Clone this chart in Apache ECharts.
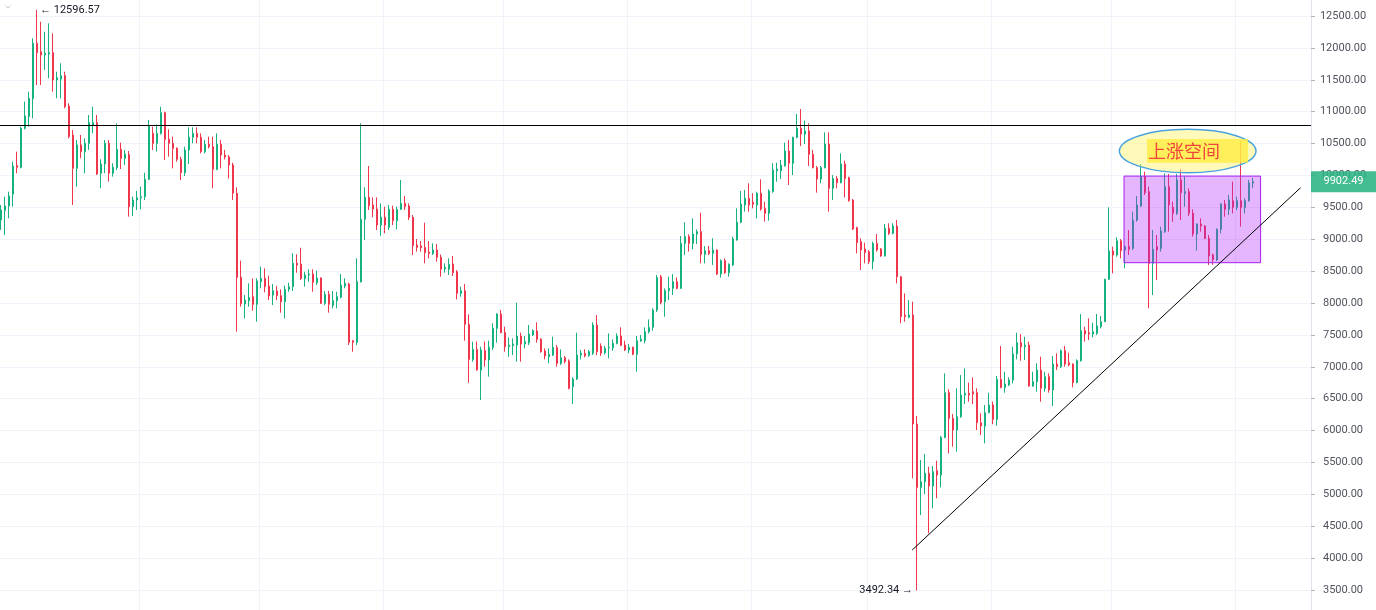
<!DOCTYPE html>
<html>
<head>
<meta charset="utf-8">
<script src="https://cdn.jsdelivr.net/npm/echarts/dist/echarts.min.js"></script>
<style>
html,body{margin:0;padding:0;background:#ffffff;}
#chart{width:1376px;height:610px;}
</style>
</head>
<body>
<div id="chart"></div>
<script>
// ---------------- DATA (daily candles) ----------------
const START_DATE = [2019, 6, 28];          // first candle: 2019-07-28
const EXTRA_SLOTS = 14;                    // empty days to the right of the last candle

const OPEN = [
9302,9449,9522,9705,10154,10128,10739,10922,11204,12072,
11941,11889,11904,11925,11497,11512,11565,11089,10635,10112,
10478,10373,10504,10791,10828,10034,10180,10504,10034,10122,
10409,10268,10330,9510,9615,9650,9667,9939,10660,10503,
10660,10984,10566,10503,10425,10252,10043,10399,10597,10660,
10597,10373,10488,10451,10096,10488,10320,10290,10164,9720,
8402,7984,8036,8099,7979,8334,8387,8266,8125,8188,
8115,8020,8214,8256,8622,8611,8386,8439,8454,8318,
8392,7995,8135,7963,8036,8089,8266,8298,7409,7383,
8334,9312,9657,9536,9474,9223,9343,9186,9468,9291,
9468,9562,9521,9343,8909,8893,8872,8799,8778,8831,
8716,8533,8528,8611,8491,8151,8193,7665,7116,7273,
6949,7252,7106,7305,7603,7827,7540,7315,7331,7341,
7482,7357,7378,7498,7561,7435,7247,7158,7184,7299,
7054,7142,7090,6688,6808,7184,7211,7174,7211,7655,
7325,7221,7299,7299,7367,7482,7341,7263,7305,7195,
7404,7409,7550,7618,7890,8413,8021,8193,8230,8334,
8230,8935,9040,8935,9082,9118,8763,8820,8778,8831,
8454,8664,8475,8596,8988,9265,9536,9641,9578,9536,
9719,9484,9406,9746,10075,10075,10153,10383,10190,10597,
10739,10650,10697,10331,10122,9944,10122,10493,9798,9954,
9887,10180,9965,9614,9181,8961,8846,8805,8648,8935,
8846,8737,9171,9092,9207,8413,7812,7775,7812,6102,
5109,5198,5329,5130,5371,5303,5893,6594,6191,6008,
6217,6557,6583,6609,6594,6123,6071,6280,6400,6176,
6803,6677,6714,6792,7200,7378,7315,7341,6698,6766,
6949,6662,6845,6636,7043,7001,7252,7064,7043,6751,
7096,7566,7535,7514,7524,7629,7707,8371,8815,8752,
8977,8831,8883,8857,9301,9520,9981,9745,8622,8883,
8857,9118,9824,9500,9406,9929,9719,9745,9406,9082,
9238,9207,9014,8752,8674,9155,9552,9469,9604,9500,
9604,9500,9604,9880
];
const CLOSE = [
9459,9522,9678,10149,10128,10739,10933,11209,12072,11925,
11889,11915,11925,11497,11533,11565,11079,10609,10112,10478,
10373,10504,10828,10828,10023,10180,10504,10034,10128,10409,
10268,10336,9510,9615,9651,9667,9939,10775,10503,10660,
10984,10566,10503,10425,10252,10043,10399,10597,10660,10597,
10373,10488,10451,10096,10488,10320,10290,10164,9720,8402,
7990,8047,8088,7979,8345,8387,8256,8110,8193,8115,
8020,8214,8256,8622,8596,8386,8439,8454,8324,8392,
7995,8135,7979,8036,8099,8282,8308,7383,7383,8334,
9312,9657,9526,9474,9223,9343,9223,9468,9291,9468,
9562,9510,9343,8899,8872,8867,8789,8778,8831,8716,
8528,8559,8606,8476,8151,8193,7665,7116,7273,6949,
7263,7106,7305,7603,7827,7535,7315,7341,7357,7482,
7357,7393,7514,7566,7430,7237,7169,7195,7305,7054,
7142,7080,6662,6808,7184,7211,7174,7237,7655,7237,
7211,7289,7305,7367,7482,7336,7263,7305,7195,7409,
7430,7550,7618,7890,8400,8005,8193,8230,8334,8230,
8935,9040,8935,9082,9118,8763,8820,8778,8831,8454,
8664,8475,8606,9003,9265,9552,9641,9536,9547,9719,
9474,9406,9756,10085,10101,10164,10383,10190,10597,10739,
10650,10697,10331,10122,9944,10122,10493,9798,9954,9887,
10180,9954,9604,9160,8946,8831,8789,8648,8935,8831,
8737,9171,9092,9207,8413,7786,7786,7812,6102,5109,
5198,5329,5130,5355,5303,5893,6594,6191,6008,6217,
6557,6583,6557,6573,6123,6071,6280,6400,6176,6803,
6677,6730,6792,7200,7378,7315,7341,6698,6766,6949,
6662,6845,6636,7043,7001,7252,7043,7028,6751,7096,
7566,7514,7514,7550,7639,7707,8371,8815,8752,8977,
8820,8883,8841,9301,9536,9981,9730,8622,8841,8831,
9129,9824,9536,9406,9929,9730,9745,9406,9082,9238,
9207,9014,8737,8684,9155,9552,9469,9615,9500,9604,
9500,9604,9880,9902.49
];
const LOW = [
9146,9067,9328,9511,10034,10112,10720,10765,10896,11418,
11418,11654,11523,11314,11209,11209,11053,10582,9537,9825,
10269,10034,10400,10661,10008,9799,10034,9903,9982,10085,
10101,10164,9354,9364,9458,9468,9615,9929,10399,10373,
10640,10242,10294,10111,10216,9928,9991,10179,10503,10503,
10346,10346,10425,9798,10080,10111,10250,9955,9615,7550,
7942,7759,7942,7880,7707,8230,8167,8047,7968,8047,
7848,7759,8177,8188,8475,8360,8256,8334,8177,8282,
7984,7968,7848,7916,7916,8073,8230,7341,7236,7341,
8320,8988,9458,9343,9144,9050,9092,9144,9223,9155,
9458,9458,9301,8752,8805,8805,8622,8700,8752,8648,
8412,8476,8439,8423,8057,8099,7409,6750,7080,6939,
6479,7001,6845,7263,7378,7525,7237,7158,7185,7080,
7080,7289,7341,7482,7378,7221,7116,7054,7169,7001,
7028,7054,6646,6416,6792,7116,7148,7158,7184,7184,
7169,7195,7132,7252,7352,7325,7247,7211,7180,6923,
7393,7367,7524,7566,7860,7980,7785,8047,8125,8214,
8220,8752,8805,8841,8925,8622,8622,8752,8596,8439,
8397,8455,8412,8580,8977,9250,9432,9432,9484,9327,
9447,9275,9291,9730,9902,9944,10138,9850,10007,10582,
10461,10493,10148,10111,9730,9876,10111,9432,9615,9798,
9876,9656,9589,9144,8778,8517,8622,8611,8528,8805,
8726,8730,9066,9076,8308,7681,7707,7759,5250,3492.34,
4675,5005,4388,4780,4937,5109,5880,5642,5747,5668,
6200,6416,6452,6416,6008,5930,5799,6270,6100,6076,
6662,6594,6700,6740,7116,7096,7106,6688,6688,6609,
6452,6609,6594,6385,6949,6980,7001,7012,6677,6740,
7080,7394,7420,7461,7498,7603,7700,8360,8465,8726,
8700,8543,8752,8831,9275,9510,9693,7916,8125,8360,
8805,9100,9118,9275,9380,9301,9510,9364,9040,8820,
9118,9000,8595,8600,8660,9092,9353,9380,9405,9457,
9197,9405,9590,9800
];
const HIGH = [
9537,9668,9746,10217,10373,10765,11157,11314,12150,12596.57,
12411,12254,12385,12228,11627,11758,11627,11131,10713,10556,
10635,10582,10948,11079,10948,10253,10556,10556,10191,10817,
10514,10399,10383,9667,9756,9824,10043,10869,10765,10800,
11078,11000,10723,10608,10441,10294,10451,10754,10754,10754,
10660,10555,10608,10608,10660,10555,10400,10320,10200,9813,
8664,8125,8308,8387,8387,8570,8543,8428,8298,8266,
8214,8272,8319,8778,8763,8867,8491,8528,8528,8507,
8402,8188,8188,8188,8177,8454,8386,8319,7419,8700,
10817,9813,10148,9657,9657,9562,9510,9536,9526,9510,
9928,9678,9562,9380,9003,8972,9259,8972,8935,8925,
8760,8622,8700,8737,8517,8256,8298,7822,7394,7394,
7315,7394,7409,7681,7838,7890,7629,7461,7446,8005,
7535,7482,7655,7587,7697,7446,7289,7289,7472,7341,
7273,7169,7116,6834,7534,7263,7273,7263,7697,7812,
7367,7325,7524,7430,7524,7618,7409,7357,7315,7482,
7498,7618,7743,7916,8440,8440,8230,8413,8454,8402,
9050,9265,9076,9327,9155,9416,8893,8893,9014,8841,
8684,8700,8622,9040,9484,9756,9772,9876,9720,9745,
9939,9589,9782,10190,10200,10242,10514,10556,10608,10963,
11042,10859,10817,10399,10148,10148,10676,10676,10007,9991,
10347,10232,9980,9630,9196,9014,8946,8830,8961,9082,
8860,9239,9249,9249,9301,8420,8151,8047,8021,6228,
5538,5632,5433,5444,5527,5914,6897,6646,6259,6662,
6871,6975,6750,6834,6662,6270,6400,6594,6452,6855,
7326,6923,6834,7315,7534,7514,7472,7394,6923,7054,
7158,6923,6897,7169,7211,7273,7326,7221,7053,7116,
7827,7629,7759,7691,7827,7796,8380,9500,8883,9029,
9003,8900,9144,9432,9678,10179,10059,9824,9144,9066,
9196,10033,10023,9589,10023,10096,9981,9797,9468,9248,
9327,9223,9066,8773,9170,9562,9614,9693,9902,9666,
10545,9640,9929,9960
];

// y-axis ticks
const Y_MIN = 3000, Y_MAX = 13000, Y_STEP = 500;

// drawings on the chart, in data space: [candle index, price]
const RESISTANCE_LEVEL = 10786;
const TREND_LINE = [[227.8, 4127], [324.9, 9808]];
const RANGE_BOX = [[280.75, 9990], [314.9, 8632]];
const NOTE_ELLIPSE = [[279.6, 10723], [313.75, 10043]];
const NOTE_HIGHLIGHT = [[286.5, 10571], [311.75, 10200]];
const NOTE_TEXT = '上涨空间';

// ---------------- BUILD ----------------
const CATS = [];
const t0 = Date.UTC(START_DATE[0], START_DATE[1], START_DATE[2]);
for (let k = 0; k < OPEN.length + EXTRA_SLOTS; k++) {
  CATS.push(new Date(t0 + k * 86400000).toISOString().slice(0, 10));
}
const CANDLES = OPEN.map((o, i) => [o, CLOSE[i], LOW[i], HIGH[i]]);

const UP = '#15b17f';
const DOWN = '#f0364c';
const GRID_COLOR = '#f0f3fa';
const FONT = 'Roboto, "Noto Sans", sans-serif';

const hiVal = Math.max.apply(null, HIGH), hiIdx = HIGH.indexOf(hiVal);
const loVal = Math.min.apply(null, LOW), loIdx = LOW.indexOf(loVal);
const lastIdx = CLOSE.length - 1, lastClose = CLOSE[lastIdx];

const chart = echarts.init(document.getElementById('chart'), null, {renderer: 'canvas'});

chart.setOption({
  animation: false,
  backgroundColor: '#ffffff',
  grid: {left: -1, right: 65, top: -15.89, bottom: -11.89, containLabel: false, outerBoundsMode: 'none'},
  xAxis: {
    type: 'category', data: CATS, boundaryGap: true,
    axisLine: {show: false}, axisTick: {show: false}, axisLabel: {show: false},
    splitLine: {show: true, interval: (i, v) => i > 10 && String(v).slice(8) === '01',
      lineStyle: {color: GRID_COLOR, width: 1}}
  },
  yAxis: {
    type: 'value', position: 'right', min: Y_MIN, max: Y_MAX, interval: Y_STEP,
    axisLine: {show: true, lineStyle: {color: '#e0e3eb', width: 1}},
    axisTick: {show: true, length: 4, lineStyle: {color: '#b2b5be'}},
    axisLabel: {formatter: v => v.toFixed(2), color: '#50535e', fontFamily: FONT, fontSize: 11,
      align: 'center', margin: 32},
    splitLine: {show: true, lineStyle: {color: GRID_COLOR, width: 1}}
  },
  graphic: [{
    type: 'polyline', left: 3, top: 3, silent: true,
    shape: {points: [[0, 0], [2.5, 2.5], [5, 0]]},
    style: {stroke: '#c3c6ce', lineWidth: 1, fill: null}
  }],
  series: [
    {
      type: 'candlestick', data: CANDLES, barWidth: 2, z: 2,
      itemStyle: {color: UP, color0: DOWN, borderColor: UP, borderColor0: DOWN, borderWidth: 1},
      markLine: {
        symbol: 'none', silent: true, animation: false,
        label: {show: false},
        lineStyle: {color: '#000000', width: 1, type: 'solid'},
        data: [{yAxis: RESISTANCE_LEVEL}]
      }
    },
    {
      type: 'custom', z: 5, silent: true, clip: false,
      data: [[0, RESISTANCE_LEVEL]], encode: {x: 0, y: 1},
      renderItem: function (params, api) {
        const bw = api.size([1, 0])[0];
        const P = (xi, yv) => {
          const b = Math.floor(xi);
          const pt = api.coord([b, yv]);
          return [pt[0] + (xi - b) * bw, pt[1]];
        };
        const cs = params.coordSys;
        const right = cs.x + cs.width;

        const b0 = P(RANGE_BOX[0][0], RANGE_BOX[0][1]);
        const b1 = P(RANGE_BOX[1][0], RANGE_BOX[1][1]);
        const t0p = P(TREND_LINE[0][0], TREND_LINE[0][1]);
        const t1p = P(TREND_LINE[1][0], TREND_LINE[1][1]);
        const e0 = P(NOTE_ELLIPSE[0][0], NOTE_ELLIPSE[0][1]);
        const e1 = P(NOTE_ELLIPSE[1][0], NOTE_ELLIPSE[1][1]);
        const h0 = P(NOTE_HIGHLIGHT[0][0], NOTE_HIGHLIGHT[0][1]);
        const h1 = P(NOTE_HIGHLIGHT[1][0], NOTE_HIGHLIGHT[1][1]);
        const hiP = P(hiIdx, hiVal);
        const loP = P(loIdx, loVal);
        const lastP = P(lastIdx, lastClose);

        return {
          type: 'group',
          children: [
            {type: 'rect', shape: {x: b0[0], y: b0[1], width: b1[0] - b0[0], height: b1[1] - b0[1]},
              style: {fill: 'rgba(175,30,250,0.33)', stroke: '#a51ff2', lineWidth: 1}},
            {type: 'line', shape: {x1: t0p[0], y1: t0p[1], x2: t1p[0], y2: t1p[1]},
              style: {stroke: '#000000', lineWidth: 1}},
            {type: 'ellipse', shape: {cx: (e0[0] + e1[0]) / 2, cy: (e0[1] + e1[1]) / 2,
                rx: (e1[0] - e0[0]) / 2, ry: (e1[1] - e0[1]) / 2},
              style: {fill: 'rgba(255,243,100,0.45)', stroke: '#4aa3df', lineWidth: 1.5}},
            {type: 'rect', shape: {x: h0[0], y: h0[1], width: h1[0] - h0[0], height: h1[1] - h0[1]},
              style: {fill: 'rgba(255,236,60,0.75)'}},
            {type: 'text', style: {text: NOTE_TEXT, x: h0[0] + 1, y: (h0[1] + h1[1]) / 2,
                fill: '#f2443c', font: '18px "Noto Sans CJK SC", sans-serif',
                align: 'left', verticalAlign: 'middle'}},
            {type: 'text', style: {text: '\u2190 ' + hiVal.toFixed(2), x: hiP[0] + 3, y: hiP[1],
                fill: '#131722', font: '11px ' + FONT, align: 'left', verticalAlign: 'middle'}},
            {type: 'text', style: {text: loVal.toFixed(2) + ' \u2192', x: loP[0] - 4, y: loP[1],
                fill: '#131722', font: '11px ' + FONT, align: 'right', verticalAlign: 'middle'}},
            {type: 'rect', shape: {x: right, y: lastP[1] - 10.5, width: 66, height: 21},
              style: {fill: 'rgba(38,178,128,0.86)'}},
            {type: 'text', style: {text: lastClose.toFixed(2), x: right + 32.5, y: lastP[1],
                fill: '#ffffff', font: '11px ' + FONT, align: 'center', verticalAlign: 'middle'}}
          ]
        };
      }
    }
  ]
});
</script>
</body>
</html>
